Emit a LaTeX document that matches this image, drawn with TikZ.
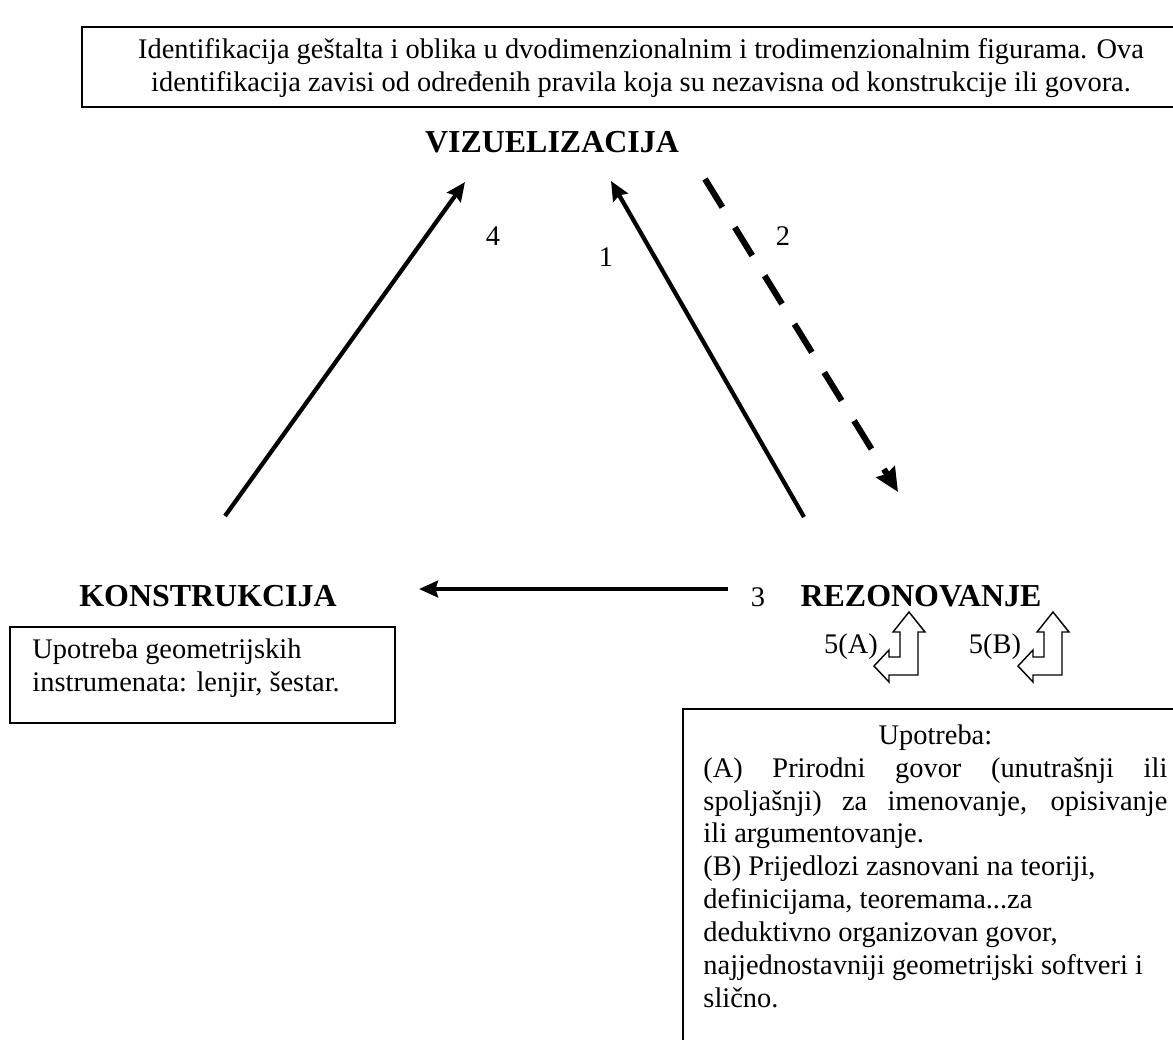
\documentclass[tikz,border=0pt]{standalone}
\usepackage{fontspec}
\setmainfont{Liberation Serif}
\usepackage{tikz}
\usepackage{xcolor}
\usetikzlibrary{arrows.meta}

\begin{document}
\begin{tikzpicture}[x=0.4225pt,y=-0.4225pt,
	tekst/.style={inner sep=0pt,font=\fontsize{12}{13.9}\selectfont},
	naslov/.style={inner sep=0pt,font=\fontsize{13.5}{15}\selectfont\bfseries},
	strelica/.style={line width=1.8pt,-{Stealth[length=8pt,width=7pt,inset=1pt]}},
	isprekidana/.style={line width=2.6pt,dash pattern=on 14pt off 10pt,-{Stealth[length=10pt,width=9pt,inset=1pt]}},
	obrt/.style={draw=black,fill=white,line width=0.6pt,line join=miter}]

	\clip (0,0) rectangle (1173,1039);

	% okviri
	\draw[line width=1pt] (82,27) rectangle (1200,107);
	\draw[line width=0.9pt] (10,627) rectangle (395,723);
	\draw[line width=0.9pt] (683,709) rectangle (1200,1060);

	% tekst u okvirima
	\node[tekst,align=center] (identif) at (641,68)
		{Identifikacija geštalta i oblika u dvodimenzionalnim i trodimenzionalnim figurama. Ova\\
		identifikacija zavisi od određenih pravila koja su nezavisna od konstrukcije ili govora.};
	\node[tekst,align=left,anchor=north west] (instrum) at (32,638)
		{Upotreba geometrijskih\\instrumenata: lenjir, šestar.};
	\node[tekst,align=left,anchor=north west] (upotreba) at (703,724)
		{\makebox[196pt]{Upotreba:}\\
		\makebox[196pt][s]{(A) Prirodni govor (unutrašnji ili}\\
		\makebox[196pt][s]{spoljašnji) za imenovanje, opisivanje}\\
		ili argumentovanje.\\
		(B) Prijedlozi zasnovani na teoriji,\\
		definicijama, teoremama...za\\
		deduktivno organizovan govor,\\
		najjednostavniji geometrijski softveri i\\
		slično.};

	% naslovi
	\node[naslov] (vizual) at (552,142) {VIZUELIZACIJA};
	\node[naslov] (konstr) at (208,596) {KONSTRUKCIJA};
	\node[naslov] (rezon) at (921,596) {REZONOVANJE};

	% strelice
	\coordinate (konstr-a) at (225,516);
	\coordinate (vizual-a) at (465,182);
	\coordinate (rezon-a) at (804,517);
	\coordinate (vizual-b) at (611,181);
	\coordinate (vizual-c) at (705,179);
	\coordinate (rezon-b) at (898,492);
	\coordinate (rezon-c) at (728,589);
	\coordinate (konstr-b) at (419,589);
	\draw[strelica] (konstr-a) -- (vizual-a);
	\draw[strelica] (rezon-a) -- (vizual-b);
	\draw[isprekidana] (vizual-c) -- (rezon-b);
	\draw[strelica] (rezon-c) -- (konstr-b);

	\node[tekst] (br4) at (493,236) {4};
	\node[tekst] (br1) at (606,257) {1};
	\node[tekst] (br2) at (783,236) {2};
	\node[tekst] (br3) at (758,597) {3};

	% 5(A) i 5(B)
	\node[tekst] (petA) at (851,647) {5(A)};
	\node[tekst] (petB) at (995,647) {5(B)};
\draw[obrt] (909,612) -- (925,632) -- (918,632) -- (918,675) -- (889,675) -- (889,682)
	-- (874,666) -- (889,650) -- (889,657) -- (900,657) -- (900,632) -- (893,632) -- cycle;
\draw[obrt,shift={(144,0)}] (909,612) -- (925,632) -- (918,632) -- (918,675) -- (889,675) -- (889,682)
	-- (874,666) -- (889,650) -- (889,657) -- (900,657) -- (900,632) -- (893,632) -- cycle;

\end{tikzpicture}
\end{document}
